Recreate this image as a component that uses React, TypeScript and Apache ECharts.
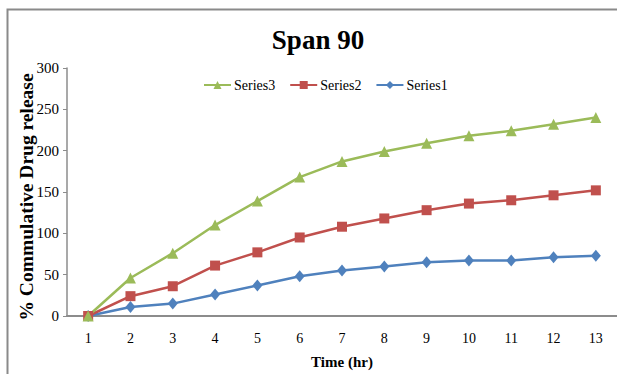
import React, { useEffect, useRef } from "react";
import * as echarts from "echarts";

const hours = ["1", "2", "3", "4", "5", "6", "7", "8", "9", "10", "11", "12", "13"];
const series3 = [0, 46, 76, 110, 139, 168, 187, 199, 209, 218, 224, 232, 240];
const series2 = [0, 24, 36, 61, 77, 95, 108, 118, 128, 136, 140, 146, 152];
const series1 = [0, 11, 15, 26, 37, 48, 55, 60, 65, 67, 67, 71, 73];
const yTitle = "% Commulative Drug release";

const serif = "'Liberation Serif', 'Times New Roman', serif";

export default function App() {
  const ref = useRef<HTMLDivElement>(null);
  useEffect(() => {
    if (!ref.current) return;
    const chart = echarts.init(ref.current, null, { renderer: "svg" });
    chart.setOption({
      animation: false,
      backgroundColor: "#ffffff",
      title: {
        text: "Span 90",
        left: 313,
        textAlign: "center",
        top: 21,
        textStyle: { fontFamily: serif, fontWeight: "bold", fontSize: 27, color: "#000" },
      },
      legend: {
        data: ["Series3", "Series2", "Series1"],
        left: 198,
        top: 73,
        itemWidth: 27,
        itemHeight: 10,
        itemGap: 14,
        textStyle: { fontFamily: serif, fontSize: 14, color: "#000", padding: [0, 0, 0, -2] },
      },
      graphic: [
        {
          type: "rect",
          shape: { x: 7.5, y: 9.5, width: 700, height: 500 },
          style: { fill: "none", stroke: "#8a8a8a", lineWidth: 2 },
          silent: true,
          z: -1,
        },
        {
          type: "text",
          x: 26,
          y: 197,
          rotation: Math.PI / 2,
          style: {
            text: yTitle,
            fontFamily: serif,
            fontWeight: "bold",
            fontSize: 19.5,
            fill: "#000",
            align: "center",
            verticalAlign: "middle",
          },
          silent: true,
        },
      ],
      grid: { left: 67, right: 0, top: 68, bottom: 56, containLabel: false },
      xAxis: {
        type: "category",
        data: hours,
        boundaryGap: true,
        name: "Time (hr)",
        nameLocation: "middle",
        nameGap: 38,
        nameTextStyle: { fontFamily: serif, fontWeight: "bold", fontSize: 15, color: "#000" },
        axisLine: { show: true, lineStyle: { color: "#8c8c8c", width: 2 } },
        axisTick: { show: false },
        axisLabel: { fontFamily: serif, fontSize: 14, color: "#000", margin: 15 },
        splitLine: { show: false },
      },
      yAxis: {
        type: "value",
        min: 0,
        max: 300,
        interval: 50,
        axisLine: { show: true, lineStyle: { color: "#8c8c8c", width: 1.5 } },
        axisTick: { show: true, inside: false, length: 4, lineStyle: { color: "#8c8c8c" } },
        axisLabel: { fontFamily: serif, fontSize: 15, color: "#000", margin: 8 },
        splitLine: { show: false },
      },
      series: [
        {
          name: "Series1",
          type: "line",
          data: series1,
          symbol: "diamond",
          symbolSize: [10, 12],
          lineStyle: { color: "#4F81BD", width: 2.5 },
          itemStyle: { color: "#4F81BD" },
        },
        {
          name: "Series2",
          type: "line",
          data: series2,
          symbol: "rect",
          symbolSize: 10,
          lineStyle: { color: "#C0504D", width: 2.5 },
          itemStyle: { color: "#C0504D" },
        },
        {
          name: "Series3",
          type: "line",
          data: series3,
          symbol: "triangle",
          symbolSize: 11,
          lineStyle: { color: "#9BBB59", width: 2.5 },
          itemStyle: { color: "#9BBB59" },
        },
      ],
    });
    return () => chart.dispose();
  }, []);
  return (
    <div
      ref={ref}
      style={{ position: "fixed", left: 0, top: 0, width: 617, height: 374, background: "#fff" }}
    />
  );
}
